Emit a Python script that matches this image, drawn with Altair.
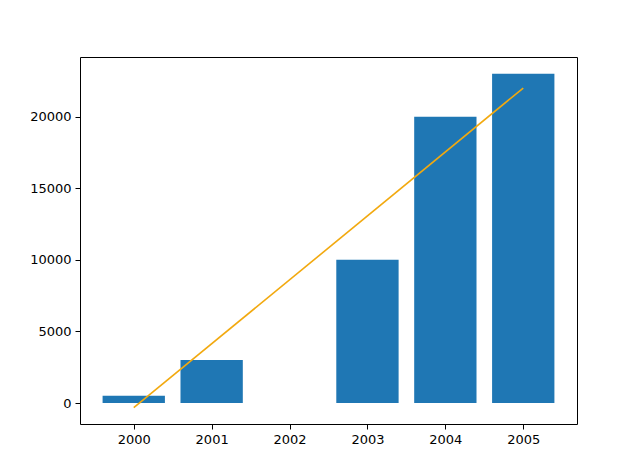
import altair as alt
import pandas as pd

years = [2000, 2001, 2002, 2003, 2004, 2005]
values = [500, 3000, 0, 10000, 20000, 23000]
line_years = [2000, 2005]
line_values = [-330, 22000]

bars_df = pd.DataFrame({"year": years, "value": values})
line_df = pd.DataFrame({"year": line_years, "value": line_values})

xscale = alt.Scale(domain=[1999.31, 2005.69], nice=False, zero=False)
yscale = alt.Scale(domain=[-1466, 24166], nice=False, zero=False)

xaxis = alt.Axis(values=years, format="d", title=None, grid=False, domain=False,
                 tickColor="black", tickSize=5, labelPadding=4, labelFontSize=13,
                 labelColor="black", labelFont="DejaVu Sans")
yaxis = alt.Axis(values=[0, 5000, 10000, 15000, 20000], format="d", title=None,
                 grid=False, domain=False, tickColor="black", tickSize=5,
                 labelPadding=4, labelFontSize=13, labelColor="black",
                 labelFont="DejaVu Sans")

bars = alt.Chart(bars_df).transform_calculate(
    x0="datum.year - 0.4", x1="datum.year + 0.4"
).mark_rect(color="#1f77b4").encode(
    x=alt.X("x0:Q", scale=xscale, axis=xaxis),
    x2="x1:Q",
    y=alt.Y("value:Q", scale=yscale, axis=yaxis),
    y2=alt.datum(0),
)

line = alt.Chart(line_df).mark_line(color="#f2a90f", strokeWidth=1.6).encode(
    x=alt.X("year:Q", scale=xscale),
    y=alt.Y("value:Q", scale=yscale),
)

chart = alt.layer(bars, line).properties(
    width=497, height=367,
    autosize=alt.AutoSizeParams(type="none"),
    padding={"left": 72, "top": 49, "right": 55, "bottom": 44},
).configure_view(stroke="black", strokeWidth=1)

chart.save("out.html", embed_options={"renderer": "svg", "actions": False})
